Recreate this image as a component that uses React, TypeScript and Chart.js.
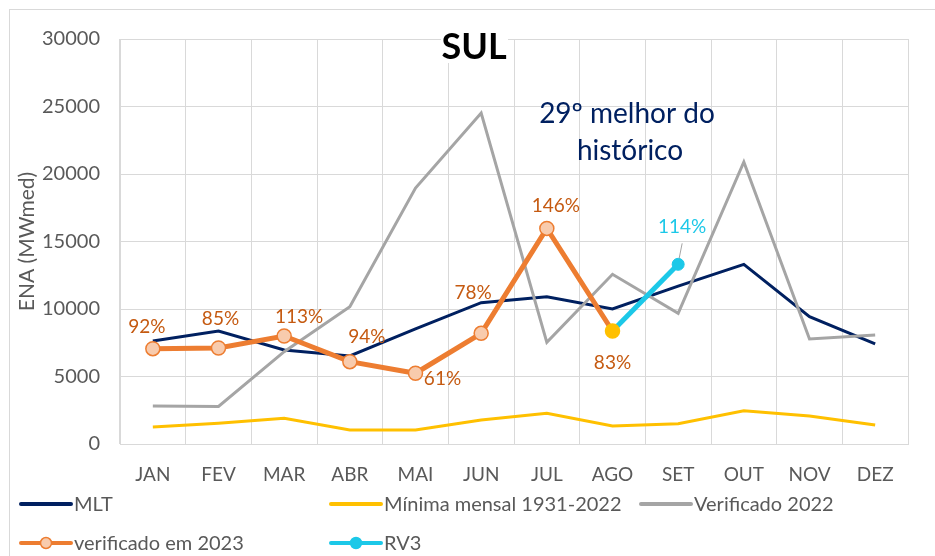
import React, { useEffect, useRef } from 'react';
import { Chart, registerables } from 'chart.js';

Chart.register(...registerables);

const months = ['JAN', 'FEV', 'MAR', 'ABR', 'MAI', 'JUN', 'JUL', 'AGO', 'SET', 'OUT', 'NOV', 'DEZ'];
const mlt = [7630, 8370, 6960, 6520, 8520, 10470, 10910, 10000, 11700, 13310, 9430, 7410];
const minima = [1260, 1530, 1900, 1040, 1040, 1780, 2270, 1330, 1500, 2470, 2070, 1410];
const verif2022 = [2810, 2780, 6840, 10170, 18960, 24520, 7530, 12570, 9680, 20890, 7780, 8070];
const verif2023 = [7060, 7110, 8000, 6100, 5240, 8200, 15970, 8370, null, null, null, null];
const rv3 = [null, null, null, null, null, null, null, 8370, 13310, null, null, null];
const pct2023 = ['92%', '85%', '113%', '94%', '61%', '78%', '146%', '83%'];
const pctRv3 = [null, null, null, null, null, null, null, null, '114%', null, null, null];
const yTicks = [0, 5000, 10000, 15000, 20000, 25000, 30000];
const seriesNames = ['MLT', 'Mínima mensal 1931-2022', 'Verificado 2022', 'verificado em 2023', 'RV3'];
const titleText = 'SUL';
const noteLines = ['29º melhor do', 'histórico'];

const FONT = 'Lato, "Open Sans", sans-serif';
const NAVY = '#002060';
const YELLOW = '#FFC000';
const GRAY = '#A5A5A5';
const ORANGE = '#ED7D31';
const PEACH = '#F8CBAD';
const CYAN = '#1CC8E8';
const LABEL_ORANGE = '#C55A11';
const TEXT_GRAY = '#595959';
const GRID = '#D9D9D9';

// label offsets (style) relative to points
const offs2023 = [[-6, -22], [2, -29], [15, -19], [17, -25], [27, 6], [-8, -40], [9, -23], [0, 32]];
const offsRv3: Record<number, number[]> = { 8: [4, -37] };

const decorPlugin = {
  id: 'decor',
  beforeDraw(chart: any) {
    const ctx = chart.ctx;
    ctx.save();
    ctx.fillStyle = '#ffffff';
    ctx.fillRect(0, 0, chart.width, chart.height);
    ctx.strokeStyle = GRID;
    ctx.lineWidth = 1;
    ctx.strokeRect(9.5, 9.5, chart.width + 20, chart.height + 20);
    ctx.restore();
  },
  afterDraw(chart: any) {
    const ctx = chart.ctx;
    ctx.save();
    // data labels
    ctx.font = `19px ${FONT}`;
    ctx.textAlign = 'center';
    ctx.textBaseline = 'middle';
    const m3 = chart.getDatasetMeta(3);
    pct2023.forEach((t, i) => {
      const p = m3.data[i];
      if (!p || t == null) return;
      ctx.fillStyle = LABEL_ORANGE;
      ctx.fillText(t, p.x + offs2023[i][0], p.y + offs2023[i][1]);
    });
    const m4 = chart.getDatasetMeta(4);
    pctRv3.forEach((t, i) => {
      if (t == null) return;
      const p = m4.data[i];
      const o = offsRv3[i];
      ctx.strokeStyle = GRAY;
      ctx.lineWidth = 1;
      ctx.beginPath();
      ctx.moveTo(p.x + 4, p.y - 21);
      ctx.lineTo(p.x + 1, p.y - 6);
      ctx.stroke();
      ctx.fillStyle = CYAN;
      ctx.fillText(t, p.x + o[0], p.y + o[1]);
    });

    // title with white box
    ctx.fillStyle = '#ffffff';
    ctx.fillRect(441, 30, 67, 33);
    ctx.fillStyle = '#000000';
    ctx.font = `bold 36px ${FONT}`;
    ctx.fillText(titleText, 474, 47);

    // note
    ctx.fillStyle = NAVY;
    ctx.font = `28px ${FONT}`;
    ctx.fillText(noteLines[0], 627, 114);
    ctx.fillText(noteLines[1], 630, 151);

    // legend
    const items = [
      { x: 21, y: 504, color: NAVY, marker: null },
      { x: 331, y: 504, color: YELLOW, marker: null },
      { x: 641, y: 504, color: GRAY, marker: null },
      { x: 21, y: 543, color: ORANGE, marker: 'peach' },
      { x: 331, y: 543, color: CYAN, marker: 'cyan' },
    ];
    items.forEach((it, i) => {
      ctx.strokeStyle = it.color;
      ctx.lineWidth = 4;
      ctx.lineCap = 'round';
      ctx.beginPath();
      ctx.moveTo(it.x, it.y);
      ctx.lineTo(it.x + 50, it.y);
      ctx.stroke();
      if (it.marker) {
        ctx.beginPath();
        ctx.arc(it.x + 25, it.y, 5.5, 0, Math.PI * 2);
        ctx.fillStyle = it.marker === 'peach' ? PEACH : CYAN;
        ctx.fill();
        ctx.lineWidth = 1.5;
        ctx.strokeStyle = it.color;
        ctx.stroke();
      }
      ctx.fillStyle = TEXT_GRAY;
      ctx.font = `20px ${FONT}`;
      ctx.textAlign = 'left';
      ctx.textBaseline = 'middle';
      ctx.fillText(seriesNames[i], it.x + 53, it.y + 1);
    });
    ctx.restore();
  },
};

export default function App() {
  const ref = useRef<HTMLCanvasElement | null>(null);
  useEffect(() => {
    if (!ref.current) return;
    const pointColors2023 = verif2023.map((_, i) => (i === 7 ? YELLOW : PEACH));
    const pointBorders2023 = verif2023.map((_, i) => (i === 7 ? YELLOW : ORANGE));
    const rv3Radius = rv3.map((_, i) => (i === 8 ? 6 : 0));
    const chart = new Chart(ref.current, {
      type: 'line',
      data: {
        labels: months,
        datasets: [
          { label: seriesNames[0], data: mlt, borderColor: NAVY, borderWidth: 3, pointRadius: 0, tension: 0, order: 5 },
          { label: seriesNames[1], data: minima, borderColor: YELLOW, borderWidth: 3, pointRadius: 0, tension: 0, order: 4 },
          { label: seriesNames[2], data: verif2022, borderColor: GRAY, borderWidth: 3, pointRadius: 0, tension: 0, order: 3 },
          {
            label: seriesNames[3], data: verif2023, borderColor: ORANGE, borderWidth: 5,
            pointRadius: 7, pointBackgroundColor: pointColors2023, pointBorderColor: pointBorders2023,
            pointBorderWidth: 1.5, tension: 0, order: 1,
          },
          {
            label: seriesNames[4], data: rv3, borderColor: CYAN, borderWidth: 5,
            pointRadius: rv3Radius, pointBackgroundColor: CYAN, pointBorderColor: CYAN,
            pointBorderWidth: 1, tension: 0, order: 2,
          },
        ],
      },
      options: {
        responsive: false,
        animation: false,
        events: [],
        layout: { padding: { left: 0, right: 27, top: 39, bottom: 50 } },
        plugins: { legend: { display: false }, tooltip: { enabled: false }, title: { display: false } },
        scales: {
          x: {
            type: 'category',
            offset: true,
            grid: { offset: true, color: GRID, lineWidth: 1, drawTicks: false },
            border: { color: GRID, width: 1 },
            ticks: { color: TEXT_GRAY, font: { family: FONT, size: 19 }, padding: 19, maxRotation: 0, autoSkip: false },
            afterFit: (s: any) => { s.height = 62; },
          },
          y: {
            min: 0,
            max: 30000,
            afterBuildTicks: (s: any) => { s.ticks = yTicks.map((v) => ({ value: v })); },
            grid: { color: GRID, lineWidth: 1, drawTicks: false },
            border: { color: GRID, width: 1 },
            ticks: {
              color: TEXT_GRAY, font: { family: FONT, size: 20 }, padding: 20,
              callback: (v: any) => String(v),
            },
            title: {
              display: true, text: 'ENA (MWmed)', color: TEXT_GRAY,
              font: { family: FONT, size: 21 }, padding: { top: 15, bottom: 0 },
            },
            afterFit: (s: any) => { s.width = 120; },
          },
        },
      },
      plugins: [decorPlugin],
    });
    return () => chart.destroy();
  }, []);
  return (
    <div style={{ position: 'absolute', left: 0, top: 0 }}>
      <canvas ref={ref} width={935} height={556} style={{ display: 'block', width: 935, height: 556 }} />
    </div>
  );
}
